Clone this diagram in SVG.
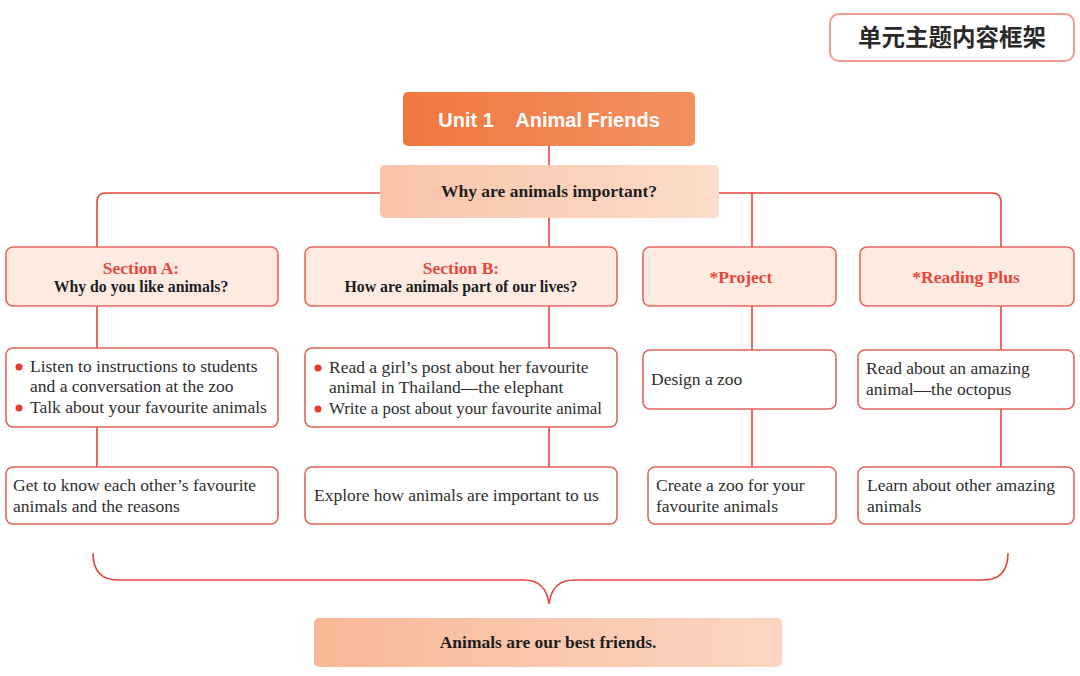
<svg xmlns="http://www.w3.org/2000/svg" width="1080" height="676" viewBox="0 0 1080 676">
<defs>
<linearGradient id="gUnit" x1="0" y1="0" x2="1" y2="0"><stop offset="0" stop-color="#F07840"/><stop offset="1" stop-color="#F39060"/></linearGradient>
<linearGradient id="gPeach" x1="0" y1="0" x2="1" y2="0"><stop offset="0" stop-color="#F9C4A8"/><stop offset="1" stop-color="#FCDCCB"/></linearGradient>
<linearGradient id="gEnd" x1="0" y1="0" x2="1" y2="0"><stop offset="0" stop-color="#F8B896"/><stop offset="1" stop-color="#FCD6C3"/></linearGradient>
</defs>
<style>
.hdr{fill:#FDEBE2;stroke:#E8675C;stroke-width:1.6}
.box{fill:#FFFFFF;stroke:#E0645A;stroke-width:1.6}
.conn{fill:none;stroke:#E5453C;stroke-width:1.6}
.t{font-family:"Liberation Serif","Times New Roman",serif;font-size:17.5px;fill:#2E2E2E}
.b{font-family:"Liberation Serif","Times New Roman",serif;font-weight:bold;fill:#1E1E1E}
.red{fill:#E9463A}
.dot{fill:#E8392F}
</style>
<rect width="1080" height="676" fill="#FFFFFF"/>

<g id="title">
<rect x="830" y="14" width="244" height="47" rx="9" fill="#FFFFFF" stroke="#EE9C8E" stroke-width="2"/>
<text x="952" y="46" text-anchor="middle" font-family="'Noto Sans CJK SC',sans-serif" font-size="23.5" font-weight="bold" fill="#2A2A2A">单元主题内容框架</text>
</g>

<g id="connectors">
<line class="conn" x1="549" y1="146" x2="549" y2="166"/>
<path class="conn" d="M380,193 H106 Q97,193 97,202 V247"/>
<path class="conn" d="M719,193 H992 Q1001,193 1001,202 V247"/>
<line class="conn" x1="752" y1="193" x2="752" y2="247"/>
<line class="conn" x1="549" y1="218" x2="549" y2="247"/>
<line class="conn" x1="97" y1="306" x2="97" y2="348"/>
<line class="conn" x1="97" y1="427" x2="97" y2="467"/>
<line class="conn" x1="549" y1="306" x2="549" y2="348"/>
<line class="conn" x1="549" y1="427" x2="549" y2="467"/>
<line class="conn" x1="752" y1="306" x2="752" y2="350"/>
<line class="conn" x1="752" y1="409" x2="752" y2="467"/>
<line class="conn" x1="1001" y1="306" x2="1001" y2="350"/>
<line class="conn" x1="1001" y1="409" x2="1001" y2="467"/>
<path class="conn" stroke-width="2" d="M93,553 Q93,580 118,580 H524 Q546,580 549,604 Q552,580 574,580 H983 Q1008,580 1008,553"/>
</g>

<g id="unit">
<rect x="403" y="92" width="292" height="54" rx="5" fill="url(#gUnit)"/>
<text x="549" y="127" text-anchor="middle" font-family="'Liberation Sans',Arial,sans-serif" font-size="20" font-weight="bold" fill="#FFFFFF" xml:space="preserve">Unit 1    Animal Friends</text>
</g>

<g id="question">
<rect x="380" y="165" width="339" height="53" rx="5" fill="url(#gPeach)"/>
<text x="549" y="197" text-anchor="middle" class="b" font-size="17.5">Why are animals important?</text>
</g>

<g id="sectionA">
<rect class="hdr" x="6" y="247" width="272" height="59" rx="7"/>
<text x="141" y="274" text-anchor="middle" class="b red" font-size="17.5">Section A:</text>
<text x="141" y="292" text-anchor="middle" class="b" font-size="15.8">Why do you like animals?</text>
</g>
<g id="sectionB">
<rect class="hdr" x="305" y="247" width="312" height="59" rx="7"/>
<text x="461" y="274" text-anchor="middle" class="b red" font-size="17.5">Section B:</text>
<text x="461" y="292" text-anchor="middle" class="b" font-size="15.8">How are animals part of our lives?</text>
</g>
<g id="project">
<rect class="hdr" x="643" y="247" width="193" height="59" rx="7"/>
<text x="741" y="283" text-anchor="middle" class="b red" font-size="17.5">*Project</text>
</g>
<g id="readingPlus">
<rect class="hdr" x="860" y="247" width="214" height="59" rx="7"/>
<text x="966" y="283" text-anchor="middle" class="b red" font-size="17.5">*Reading Plus</text>
</g>

<g id="aMid">
<rect class="box" x="6" y="348" width="272" height="79" rx="7"/>
<circle class="dot" cx="19" cy="367" r="3.5"/>
<circle class="dot" cx="19" cy="408" r="3.5"/>
<text class="t" x="30" y="372">Listen to instructions to students</text>
<text class="t" x="30" y="392">and a conversation at the zoo</text>
<text class="t" x="30" y="413">Talk about your favourite animals</text>
</g>
<g id="bMid">
<rect class="box" x="305" y="348" width="312" height="79" rx="7"/>
<circle class="dot" cx="318" cy="368" r="3.5"/>
<circle class="dot" cx="318" cy="409" r="3.5"/>
<text class="t" x="329" y="373">Read a girl’s post about her favourite</text>
<text class="t" x="329" y="393">animal in Thailand—the elephant</text>
<text class="t" x="329" y="414" textLength="273" lengthAdjust="spacingAndGlyphs">Write a post about your favourite animal</text>
</g>
<g id="pMid">
<rect class="box" x="643" y="350" width="193" height="59" rx="7"/>
<text class="t" x="651" y="385">Design a zoo</text>
</g>
<g id="rMid">
<rect class="box" x="858" y="350" width="216" height="59" rx="7"/>
<text class="t" x="866" y="374">Read about an amazing</text>
<text class="t" x="866" y="395">animal—the octopus</text>
</g>

<g id="aBot">
<rect class="box" x="6" y="467" width="272" height="57" rx="7"/>
<text class="t" x="13" y="491">Get to know each other’s favourite</text>
<text class="t" x="13" y="512">animals and the reasons</text>
</g>
<g id="bBot">
<rect class="box" x="305" y="467" width="312" height="57" rx="7"/>
<text class="t" x="314" y="501">Explore how animals are important to us</text>
</g>
<g id="pBot">
<rect class="box" x="648" y="467" width="188" height="57" rx="7"/>
<text class="t" x="656" y="491">Create a zoo for your</text>
<text class="t" x="656" y="512">favourite animals</text>
</g>
<g id="rBot">
<rect class="box" x="858" y="467" width="216" height="57" rx="7"/>
<text class="t" x="867" y="491">Learn about other amazing</text>
<text class="t" x="867" y="512">animals</text>
</g>

<g id="conclusion">
<rect x="314" y="618" width="468" height="49" rx="5" fill="url(#gEnd)"/>
<text x="548" y="648" text-anchor="middle" class="b" font-size="17.5">Animals are our best friends.</text>
</g>
</svg>
